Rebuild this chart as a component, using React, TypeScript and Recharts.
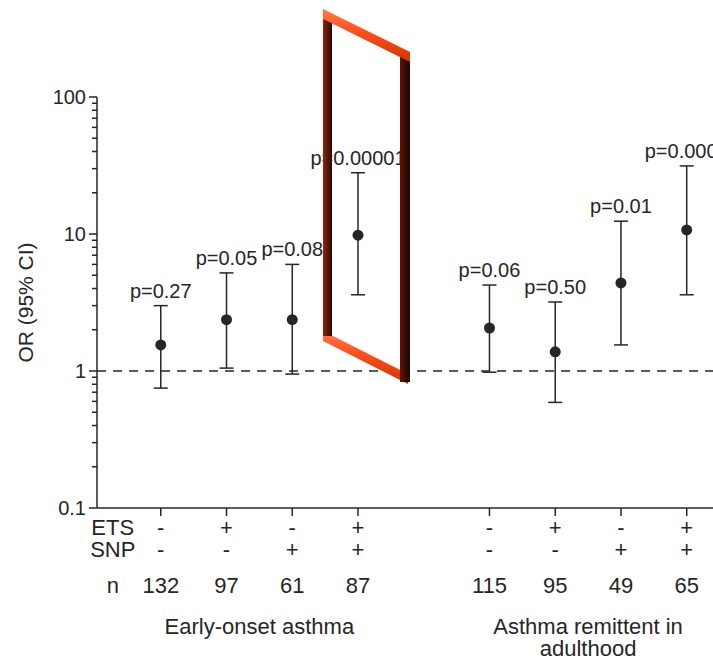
import React from 'react';
import { ScatterChart, Scatter, XAxis, YAxis, ErrorBar, ReferenceLine } from 'recharts';

// --- data ---
const positions = [0, 1, 2, 3, 5, 6, 7, 8];
const oddsRatios = [1.55, 2.37, 2.37, 9.8, 2.06, 1.38, 4.39, 10.7];
const ciLow = [0.75, 1.05, 0.95, 3.6, 0.98, 0.59, 1.55, 3.6];
const ciHigh = [3.0, 5.2, 6.0, 28, 4.24, 3.19, 12.4, 31.4];
const pLabels = ['p=0.27', 'p=0.05', 'p=0.08', 'p=0.00001', 'p=0.06', 'p=0.50', 'p=0.01', 'p=0.0003'];
const etsSigns = ['-', '+', '-', '+', '-', '+', '-', '+'];
const snpSigns = ['-', '-', '+', '+', '-', '-', '+', '+'];
const nCounts = [132, 97, 61, 87, 115, 95, 49, 65];
const groupCenters = [1.5, 6.5];
const groupLines = [['Early-onset asthma'], ['Asthma remittent in', 'adulthood']];

const majorTicks = [0.1, 1, 10, 100];
const minorSteps = [2, 3, 4, 5, 6, 7, 8, 9];

const FONT = '"Liberation Sans", Arial, Helvetica, sans-serif';
const INK = '#262626';

const yTicks = [
  ...majorTicks,
  ...majorTicks.slice(0, -1).flatMap(m => minorSteps.map(s => +(m * s).toPrecision(3))),
];

const points = positions.map((x, i) => ({
  x,
  y: oddsRatios[i],
  ci: [oddsRatios[i] - ciLow[i], ciHigh[i] - oddsRatios[i]],
}));

const labelPoints = positions.map((x, i) => ({ x, y: ciHigh[i], p: pLabels[i] }));

// y axis: long ticks on decades, short ones between
const YTick = ({ x, y, payload }: any) => {
  const v = payload.value;
  const major = majorTicks.includes(v);
  return (
    <g>
      <line x1={x - (major ? 8 : 5)} x2={x} y1={y} y2={y} stroke={INK} strokeWidth={1.5} />
      {major && (
        <text x={x - 11} y={y} dy="0.36em" textAnchor="end" fontSize={20} fill={INK} fontFamily={FONT}>
          {v}
        </text>
      )}
    </g>
  );
};

// x axis: tick mark + ETS / SNP / n table, plus group captions
const XTick = ({ x, y, payload }: any) => {
  const v = payload.value;
  const txt = { fontSize: 22, fill: INK, fontFamily: FONT, textAnchor: 'middle' as const };
  const g = groupCenters.indexOf(v);
  if (g >= 0) {
    return (
      <g>
        {groupLines[g].map((line, k) => (
          <text key={k} x={x} y={y + 126 + k * 22} {...txt}>{line}</text>
        ))}
      </g>
    );
  }
  const i = positions.indexOf(v);
  if (i < 0) return null;
  return (
    <g>
      <line x1={x} x2={x} y1={y} y2={y + 8} stroke={INK} strokeWidth={1.5} />
      <text x={x} y={y + 27} {...txt}>{etsSigns[i]}</text>
      <text x={x} y={y + 49} {...txt}>{snpSigns[i]}</text>
      <text x={x} y={y + 85} {...txt}>{nCounts[i]}</text>
      {i === 0 && (
        <g>
          <text x={x - 48} y={y + 27} {...txt}>ETS</text>
          <text x={x - 48} y={y + 49} {...txt}>SNP</text>
          <text x={x - 48} y={y + 85} {...txt}>n</text>
        </g>
      )}
    </g>
  );
};

const Dot = ({ cx, cy }: any) => <circle cx={cx} cy={cy} r={5.5} fill={INK} />;

const PLabel = ({ cx, cy, payload }: any) => (
  <text x={cx} y={cy - 8} textAnchor="middle" fontSize={20} fill={INK} fontFamily={FONT}>
    {payload.p}
  </text>
);

const YLabel = ({ viewBox }: any) => {
  const cy = viewBox.y + viewBox.height / 2;
  return (
    <text
      transform={`translate(25, ${cy}) rotate(-90)`}
      dy="0.36em"
      textAnchor="middle"
      fontSize={21}
      fill={INK}
      fontFamily={FONT}
    >
      OR (95% CI)
    </text>
  );
};

// red highlight frame drawn over the 4th estimate
const Frame = () => (
  <svg width={713} height={661} style={{ position: 'absolute', left: 0, top: 0, pointerEvents: 'none' }}>
    <defs>
      <linearGradient id="orange" x1="0" y1="0" x2="0" y2="1">
        <stop offset="0" stopColor="#ff7a48" />
        <stop offset="0.45" stopColor="#ff4d1c" />
        <stop offset="1" stopColor="#d43200" />
      </linearGradient>
      <linearGradient id="leftBar" x1="0" y1="0" x2="1" y2="0">
        <stop offset="0" stopColor="#8a2a0c" />
        <stop offset="1" stopColor="#2e0600" />
      </linearGradient>
      <linearGradient id="rightBar" x1="0" y1="0" x2="1" y2="0">
        <stop offset="0" stopColor="#5e1606" />
        <stop offset="1" stopColor="#1a0300" />
      </linearGradient>
    </defs>
    <polygon points="323,331 408,374 408,384 323,341" fill="url(#orange)" />
    <rect x={323} y={16} width={9} height={320} fill="url(#leftBar)" />
    <rect x={400} y={54} width={10} height={328} fill="url(#rightBar)" />
    <polygon points="323,9 410,52 410,62 323,19" fill="url(#orange)" />
  </svg>
);

export default function App() {
  return (
    <div style={{ position: 'absolute', left: 0, top: 0, width: 713, height: 661, overflow: 'hidden', background: '#fff' }}>
      <ScatterChart width={713} height={661} margin={{ top: 97, right: 0, bottom: 0, left: 0 }}>
        <XAxis
          type="number"
          dataKey="x"
          domain={[-0.97, 8.4]}
          ticks={[...positions, ...groupCenters].sort((a, b) => a - b)}
          interval={0}
          allowDataOverflow
          height={153}
          tickSize={0}
          tickMargin={0}
          tickLine={false}
          tick={<XTick />}
          axisLine={{ stroke: INK, strokeWidth: 1.5 }}
        />
        <YAxis
          type="number"
          dataKey="y"
          scale="log"
          domain={[0.1, 100]}
          ticks={yTicks}
          interval={0}
          allowDataOverflow
          width={97}
          tickSize={0}
          tickMargin={0}
          tickLine={false}
          tick={<YTick />}
          axisLine={{ stroke: INK, strokeWidth: 1.5 }}
          label={<YLabel />}
        />
        <ReferenceLine y={1} stroke={INK} strokeWidth={1.5} strokeDasharray="9 7" />
        <Scatter data={points} shape={<Dot />} isAnimationActive={false}>
          <ErrorBar dataKey="ci" direction="y" width={7} stroke={INK} strokeWidth={1.5} />
        </Scatter>
        <Scatter data={labelPoints} shape={<PLabel />} isAnimationActive={false} />
      </ScatterChart>
      <Frame />
    </div>
  );
}
